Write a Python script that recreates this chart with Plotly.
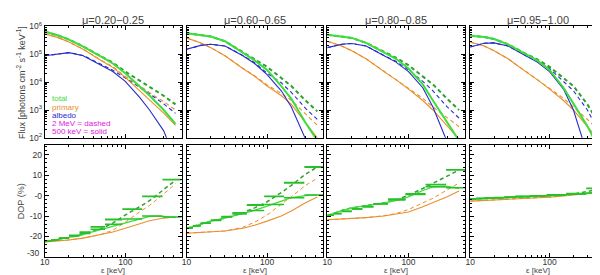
import numpy as np
import plotly.graph_objects as go

# ---------------- data ----------------
energy = [10, 15, 20, 30, 50, 70, 100, 150, 200, 300, 420]          # keV
bin_edges = [10, 12, 15, 20, 27, 37, 56, 92, 162, 290, 500]        # keV
mu_labels = ["μ=0.20−0.25", "μ=0.60−0.65", "μ=0.80−0.85", "μ=0.95−1.00"]

# log10 of flux [photons cm^-2 s^-1 keV^-1]
# panel 1
p1_total_500 = [5.82, 5.67, 5.53, 5.28, 4.92, 4.67, 4.32, 3.86, 3.52, 3.00, 2.50]
p1_total_2m = [5.82, 5.67, 5.53, 5.28, 4.93, 4.70, 4.38, 4.06, 3.83, 3.51, 3.20]
p1_prim_500 = [5.74, 5.59, 5.44, 5.18, 4.78, 4.53, 4.17, 3.69, 3.34, 2.89, 2.45]
p1_prim_2m = [5.74, 5.59, 5.44, 5.18, 4.79, 4.56, 4.20, 3.88, 3.62, 3.30, 3.00]
p1_alb_500 = [4.95, 5.03, 5.06, 4.95, 4.61, 4.38, 4.03, 3.46, 3.00, 2.25, 1.20]
p1_alb_2m = [4.95, 5.03, 5.06, 4.96, 4.64, 4.43, 4.15, 3.82, 3.58, 3.22, 2.88]
# panel 2
p2_total_500 = [5.76, 5.70, 5.64, 5.47, 5.07, 4.78, 4.44, 3.86, 3.40, 2.54, 1.90]
p2_total_2m = [5.76, 5.70, 5.64, 5.47, 5.08, 4.82, 4.55, 4.15, 3.86, 3.34, 2.95]
p2_prim_500 = [5.59, 5.41, 5.24, 4.95, 4.49, 4.21, 3.86, 3.52, 3.20, 2.55, 2.00]
p2_prim_2m = [5.59, 5.41, 5.24, 4.95, 4.50, 4.23, 3.90, 3.60, 3.35, 2.85, 2.45]
p2_alb_500 = [5.18, 5.32, 5.36, 5.30, 4.95, 4.67, 4.27, 3.69, 3.11, 1.95, 1.00]
p2_alb_2m = [5.18, 5.32, 5.36, 5.30, 4.96, 4.70, 4.32, 3.98, 3.63, 3.06, 2.66]
# panel 3
p3_total_500 = [5.70, 5.64, 5.59, 5.41, 5.07, 4.84, 4.49, 3.92, 3.34, 2.55, 1.90]
p3_total_2m = [5.70, 5.64, 5.59, 5.41, 5.08, 4.88, 4.61, 4.21, 3.92, 3.40, 3.00]
p3_prim_500 = [5.47, 5.30, 5.13, 4.84, 4.38, 4.09, 3.75, 3.34, 3.00, 2.42, 1.95]
p3_prim_2m = [5.47, 5.30, 5.13, 4.84, 4.39, 4.10, 3.78, 3.42, 3.11, 2.71, 2.40]
p3_alb_500 = [5.24, 5.36, 5.39, 5.30, 4.95, 4.72, 4.38, 3.80, 3.11, 1.85, 1.30]
p3_alb_2m = [5.24, 5.36, 5.39, 5.30, 4.96, 4.75, 4.44, 4.03, 3.69, 3.11, 2.71]
# panel 4
p4_total_500 = [5.67, 5.62, 5.55, 5.36, 5.01, 4.78, 4.44, 3.80, 3.23, 2.42, 1.60]
p4_total_2m = [5.67, 5.62, 5.55, 5.36, 5.02, 4.82, 4.55, 4.15, 3.86, 3.20, 2.50]
p4_prim_500 = [5.44, 5.30, 5.13, 4.84, 4.38, 4.09, 3.75, 3.34, 3.00, 2.42, 1.90]
p4_prim_2m = [5.44, 5.30, 5.13, 4.84, 4.39, 4.10, 3.78, 3.42, 3.11, 2.66, 2.25]
p4_alb_500 = [5.26, 5.40, 5.41, 5.30, 4.95, 4.72, 4.38, 3.75, 3.00, 1.40, 1.00]
p4_alb_2m = [5.26, 5.40, 5.41, 5.30, 4.96, 4.75, 4.49, 4.03, 3.69, 3.00, 2.20]

# DOP (%)
p1_dop_total_500 = [-22.5, -21.5, -20.5, -19.0, -16.5, -15.0, -13.3, -11.5, -10.2, -10.2, -10.8]
p1_dop_total_2m = [-22.5, -21.5, -20.5, -19.0, -16.2, -13.5, -9.5, -5.5, -2.5, 3.0, 7.5]
p1_dop_prim_500 = [-22.7, -22.2, -21.7, -20.8, -19.0, -17.8, -16.0, -13.8, -12.3, -11.0, -10.5]
p1_dop_prim_2m = [-22.7, -22.2, -21.7, -20.8, -19.0, -17.0, -13.0, -8.0, -4.8, 0.8, 5.8]
p1_bins_2m = [-22.3, -21.8, -20.8, -19.5, -17.9, -15.3, -11.7, -6.6, -0.4, 7.8]
p1_bins_500 = [-22.3, -21.8, -20.8, -19.8, -18.5, -16.5, -14.0, -11.5, -10.0, -10.5]

p2_dop_total_500 = [-16.0, -14.0, -12.5, -11.0, -8.8, -7.2, -5.2, -2.7, -1.0, 0.0, 0.4]
p2_dop_total_2m = [-16.0, -14.0, -12.5, -11.0, -8.5, -6.0, -3.0, 1.5, 5.0, 10.5, 14.0]
p2_dop_prim_500 = [-18.4, -18.1, -17.8, -17.3, -16.0, -14.5, -12.5, -10.0, -7.5, -3.5, -0.7]
p2_dop_prim_2m = [-18.4, -18.1, -17.8, -17.3, -15.5, -13.0, -9.5, -4.5, -0.5, 5.0, 8.5]
p2_bins_2m = [-15.8, -14.8, -13.5, -12.1, -10.3, -8.5, -4.6, -0.4, 6.3, 14.0]
p2_bins_500 = [-15.8, -14.8, -13.5, -12.1, -10.5, -9.0, -7.3, -4.3, -1.0, 0.3]

p3_dop_total_500 = [-9.8, -7.3, -6.0, -5.0, -3.6, -2.5, -0.6, 2.5, 4.3, 4.5, 3.6]
p3_dop_total_2m = [-9.8, -7.3, -6.0, -5.0, -3.5, -2.2, 0.2, 3.5, 6.0, 9.5, 12.5]
p3_dop_prim_500 = [-11.8, -11.5, -11.2, -10.8, -10.0, -9.2, -8.0, -5.5, -3.5, -0.5, 2.2]
p3_dop_prim_2m = [-11.8, -11.5, -11.2, -10.8, -9.8, -8.8, -6.8, -3.5, -1.3, 2.8, 6.2]
p3_bins_2m = [-9.6, -8.8, -7.7, -6.5, -5.4, -4.0, -1.7, 0.8, 5.4, 12.6]
p3_bins_500 = [-9.6, -8.8, -7.7, -6.5, -5.4, -4.0, -2.2, 0.5, 4.3, 3.8]

p4_dop_total_500 = [-1.7, -1.5, -1.3, -1.0, -0.7, -0.4, -0.1, 0.3, 0.6, 1.0, 1.5]
p4_dop_total_2m = [-1.7, -1.5, -1.3, -1.0, -0.7, -0.4, -0.1, 0.3, 0.8, 2.0, 3.2]
p4_dop_prim_500 = [-2.7, -2.4, -2.1, -1.7, -1.3, -1.0, -0.8, -0.2, 0.2, 0.8, 1.5]
p4_dop_prim_2m = [-2.7, -2.4, -2.1, -1.7, -1.3, -1.0, -0.7, 0.0, 0.5, 1.3, 2.2]
p4_bins_2m = [-1.6, -1.4, -1.2, -1.0, -0.7, -0.4, -0.1, 0.4, 1.0, 3.5]
p4_bins_500 = [-1.6, -1.4, -1.2, -1.0, -0.7, -0.4, -0.1, 0.3, 0.8, 1.3]

dop_tick_vals = [-20, -10, 0, 10, 20]
dop_tick_text = ["-20", "-10", "-0", "10", "20"]
dop_bottom_label = "-30"

flux_panels = [
    (p1_total_500, p1_total_2m, p1_prim_500, p1_prim_2m, p1_alb_500, p1_alb_2m),
    (p2_total_500, p2_total_2m, p2_prim_500, p2_prim_2m, p2_alb_500, p2_alb_2m),
    (p3_total_500, p3_total_2m, p3_prim_500, p3_prim_2m, p3_alb_500, p3_alb_2m),
    (p4_total_500, p4_total_2m, p4_prim_500, p4_prim_2m, p4_alb_500, p4_alb_2m),
]
dop_panels = [
    (p1_dop_total_500, p1_dop_total_2m, p1_dop_prim_500, p1_dop_prim_2m, p1_bins_2m, p1_bins_500),
    (p2_dop_total_500, p2_dop_total_2m, p2_dop_prim_500, p2_dop_prim_2m, p2_bins_2m, p2_bins_500),
    (p3_dop_total_500, p3_dop_total_2m, p3_dop_prim_500, p3_dop_prim_2m, p3_bins_2m, p3_bins_500),
    (p4_dop_total_500, p4_dop_total_2m, p4_dop_prim_500, p4_dop_prim_2m, p4_bins_2m, p4_bins_500),
]

# ---------------- style ----------------
W, H = 600, 275
GREEN = "#3ddd3d"
GREEN_D = "#2ea02e"
GREEN_B = "#28c028"
ORANGE = "#e8902e"
BLUE = "#2b2bcc"
MAGENTA = "#e020e0"
DASH = "4px,3px"
FONT = "Liberation Sans, Arial, sans-serif"
TXT = "#444444"

x_pix = [(32, 170), (175, 313), (317, 456), (461, 597)]
top_pix = (13, 129)
bot_pix = (136, 253)


def px(xp):
    return xp / W


def py(yp):
    return 1 - yp / H


def sfx(n):
    return "" if n == 1 else str(n)


fig = go.Figure()


def add_line(n, x, y, color, width, dash=None):
    fig.add_trace(go.Scatter(x=x, y=y, mode="lines", xaxis="x" + sfx(n), yaxis="y" + sfx(n),
                             line=dict(color=color, width=width, dash=dash),
                             hoverinfo="skip", showlegend=False))


def add_bins(n, vals, color, width):
    xs, ys = [], []
    for i, v in enumerate(vals):
        xs += [bin_edges[i], bin_edges[i + 1], None]
        ys += [v, v, None]
    add_line(n, xs, ys, color, width)


for i in range(4):
    nt = i + 1
    nb = i + 5
    tot5, tot2, pr5, pr2, al5, al2 = flux_panels[i]
    f = lambda a: list(10 ** np.array(a))
    add_line(nt, energy, f(pr2), ORANGE, 1.1, DASH)
    add_line(nt, energy, f(al2), BLUE, 1.1, DASH)
    add_line(nt, energy, f(tot2), GREEN_D, 2, DASH)
    add_line(nt, energy, f(pr5), ORANGE, 1.1)
    add_line(nt, energy, f(al5), BLUE, 1.1)
    add_line(nt, energy, f(tot5), GREEN, 2)

    d5, d2, dp5, dp2, b2, b5 = dop_panels[i]
    add_line(nb, energy, dp2, ORANGE, 1, DASH)
    add_line(nb, energy, dp5, ORANGE, 1.1)
    add_line(nb, energy, d2, GREEN_D, 1.5, DASH)
    add_line(nb, energy, d5, GREEN, 1.3)
    add_bins(nb, b5, GREEN_B, 1.5)
    add_bins(nb, b2, GREEN_B, 1.8)

layout = dict(width=W, height=H, margin=dict(l=0, r=0, t=0, b=0),
              plot_bgcolor="white", paper_bgcolor="white", showlegend=False,
              font=dict(family=FONT, size=9, color=TXT))

common = dict(showline=True, linecolor="black", linewidth=1, mirror="ticks",
              ticks="inside", tickcolor="black", ticklen=4, showgrid=False, zeroline=False,
              tickfont=dict(family=FONT, size=8.5, color="#333333"))

for i in range(4):
    x0, x1 = x_pix[i]
    for row, n in ((0, i + 1), (1, i + 5)):
        yp = top_pix if row == 0 else bot_pix
        xa = dict(common, type="log", range=[1, np.log10(500)], domain=[px(x0), px(x1)],
                  anchor="y" + sfx(n), tickvals=[10, 100], ticktext=["10", "100"],
                  showticklabels=(row == 1), ticklabelstandoff=-3,
                  minor=dict(ticks="inside", ticklen=2, tickcolor="black", dtick="D1"))
        if row == 0:
            ya = dict(common, type="log", range=[2, 6], domain=[py(yp[1]), py(yp[0])],
                      anchor="x" + sfx(n), tickvals=[1e2, 1e3, 1e4, 1e5, 1e6],
                      ticktext=["10<sup>2</sup>", "10<sup>3</sup>", "10<sup>4</sup>",
                                "10<sup>5</sup>", "10<sup>6</sup>"],
                      showticklabels=(i == 0),
                      minor=dict(ticks="inside", ticklen=2, tickcolor="black", dtick="D1"))
        else:
            ya = dict(common, type="linear", range=[-30, 25], domain=[py(yp[1]), py(yp[0])],
                      anchor="x" + sfx(n), tickvals=dop_tick_vals, ticktext=dop_tick_text,
                      showticklabels=(i == 0),
                      minor=dict(ticks="inside", ticklen=2, tickcolor="black", dtick=2))
        layout["xaxis" + sfx(n)] = xa
        layout["yaxis" + sfx(n)] = ya

fig.update_layout(**layout)

ann = []
for i in range(4):
    x0, x1 = x_pix[i]
    cx = px((x0 + x1) / 2)
    ann.append(dict(x=cx, y=py(6), xref="paper", yref="paper", text=mu_labels[i],
                    showarrow=False, font=dict(size=11, color=TXT), xanchor="center", yanchor="middle"))
    ann.append(dict(x=cx, y=py(267), xref="paper", yref="paper", text="ε [keV]",
                    showarrow=False, font=dict(size=8, color=TXT), xanchor="center", yanchor="middle"))

# bottom DOP tick label, nudged up like the original
ann.append(dict(x=px(29.5), y=-30, xref="paper", yref="y5", yshift=4, text=dop_bottom_label,
                showarrow=False, font=dict(size=8.5, color="#333333"),
                xanchor="right", yanchor="middle"))

ann.append(dict(x=px(8), y=py(71), xref="paper", yref="paper", textangle=-90,
                text="Flux [photons cm<sup>-2</sup> s<sup>-1</sup> keV<sup>-1</sup>]",
                showarrow=False, font=dict(size=9, color=TXT), xanchor="center", yanchor="middle"))
ann.append(dict(x=px(8), y=py(195), xref="paper", yref="paper", textangle=-90,
                text="DOP (%)", showarrow=False, font=dict(size=9, color=TXT),
                xanchor="center", yanchor="middle"))

legend_items = [("total", GREEN, 88.5), ("primary", ORANGE, 97), ("albedo", BLUE, 105.5),
                ("2 MeV = dashed", MAGENTA, 114), ("500 keV = solid", MAGENTA, 122.5)]
for txt, col, yy in legend_items:
    ann.append(dict(x=px(37), y=py(yy), xref="paper", yref="paper", text=txt,
                    showarrow=False, font=dict(size=8, color=col), xanchor="left", yanchor="middle"))

fig.update_layout(annotations=ann)
fig.write_html("out.html")
